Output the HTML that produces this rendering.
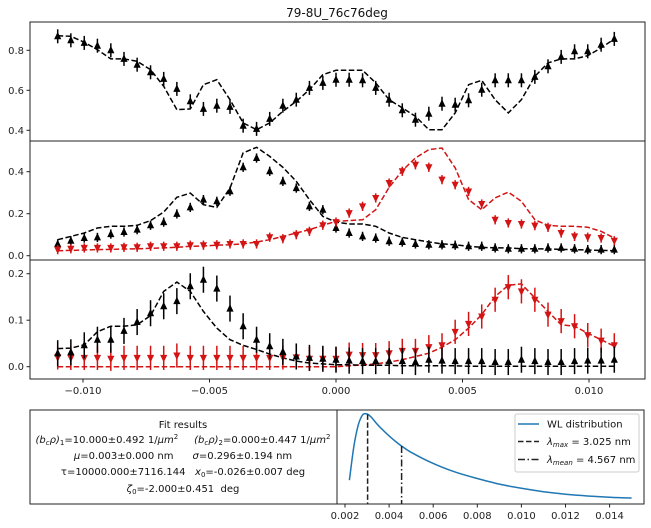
<!DOCTYPE html>
<html><head><meta charset="utf-8"><style>
html,body{margin:0;padding:0;background:#fff;}
svg{display:block;font-family:"DejaVu Sans","Liberation Sans",sans-serif;}
text{white-space:pre;}
.tk{font-size:10px;fill:#222;}
</style></head><body>
<svg id="chart" width="651" height="528" viewBox="0 0 651 528" xmlns="http://www.w3.org/2000/svg" xml:space="preserve">
<text x="337" y="17" text-anchor="middle" font-size="12" fill="#111">79-8U_76c76deg</text>
<g id="g"></g>
<rect x="30" y="410" width="307" height="94" fill="none" stroke="#222"/>
<g font-size="10" fill="#111" text-anchor="middle">
<text x="183" y="428">Fit results</text>
<text x="183" y="443"><tspan font-style="italic">(b<tspan font-size="7" dy="2">c</tspan><tspan dy="-2">ρ)</tspan></tspan><tspan font-size="7" dy="2">1</tspan><tspan dy="-2">=10.000±0.492 1/</tspan><tspan font-style="italic">μm</tspan><tspan font-size="7" dy="-4">2</tspan><tspan dy="4">     </tspan><tspan font-style="italic">(b<tspan font-size="7" dy="2">c</tspan><tspan dy="-2">ρ)</tspan></tspan><tspan font-size="7" dy="2">2</tspan><tspan dy="-2">=0.000±0.447 1/</tspan><tspan font-style="italic">μm</tspan><tspan font-size="7" dy="-4">2</tspan></text>
<text x="183" y="459"><tspan font-style="italic">μ</tspan>=0.003±0.000 nm      <tspan font-style="italic">σ</tspan>=0.296±0.194 nm</text>
<text x="183" y="475">τ=10000.000±7116.144   <tspan font-style="italic">x</tspan><tspan font-size="7" dy="2">0</tspan><tspan dy="-2">=-0.026±0.007 deg</tspan></text>
<text x="183" y="492"><tspan font-style="italic">ζ</tspan><tspan font-size="7" dy="2">0</tspan><tspan dy="-2">=-2.000±0.451  deg</tspan></text>
</g>
</svg>
<script>
const xVals=[-0.01100,-0.01048,-0.00995,-0.00943,-0.00890,-0.00838,-0.00786,-0.00733,-0.00681,-0.00629,-0.00576,-0.00524,-0.00471,-0.00419,-0.00367,-0.00314,-0.00262,-0.00210,-0.00157,-0.00105,-0.00052,0,0.00052,0.00105,0.00157,0.00210,0.00262,0.00314,0.00367,0.00419,0.00471,0.00524,0.00576,0.00629,0.00681,0.00733,0.00786,0.00838,0.00890,0.00943,0.00995,0.01048,0.01100];
const p1Data=[0.870,0.850,0.837,0.823,0.800,0.757,0.728,0.690,0.657,0.607,0.545,0.507,0.523,0.517,0.423,0.407,0.457,0.523,0.553,0.612,0.637,0.653,0.653,0.650,0.612,0.553,0.500,0.453,0.483,0.533,0.528,0.550,0.603,0.650,0.650,0.650,0.667,0.720,0.767,0.795,0.795,0.828,0.857];
const p1Fit=[0.873,0.870,0.840,0.803,0.757,0.757,0.745,0.703,0.620,0.503,0.507,0.628,0.653,0.553,0.437,0.403,0.437,0.495,0.545,0.603,0.678,0.700,0.700,0.700,0.637,0.553,0.512,0.470,0.403,0.403,0.487,0.628,0.650,0.553,0.487,0.553,0.670,0.737,0.757,0.757,0.773,0.812,0.857];
const p2Black=[0.056,0.071,0.084,0.087,0.103,0.113,0.124,0.145,0.160,0.199,0.230,0.267,0.259,0.307,0.421,0.465,0.402,0.354,0.322,0.235,0.219,0.132,0.108,0.092,0.084,0.069,0.065,0.056,0.052,0.052,0.050,0.045,0.045,0.037,0.033,0.033,0.033,0.037,0.037,0.033,0.029,0.029,0.029];
const p2Red=[0.029,0.033,0.037,0.037,0.037,0.040,0.040,0.045,0.045,0.045,0.050,0.050,0.052,0.056,0.056,0.056,0.088,0.081,0.100,0.116,0.145,0.160,0.203,0.235,0.275,0.346,0.402,0.433,0.421,0.362,0.338,0.306,0.246,0.171,0.156,0.151,0.143,0.135,0.108,0.092,0.088,0.084,0.071];
const p2BlackFit=[0.076,0.092,0.108,0.132,0.140,0.140,0.145,0.167,0.208,0.278,0.298,0.243,0.230,0.322,0.489,0.516,0.473,0.421,0.354,0.267,0.187,0.160,0.151,0.151,0.140,0.108,0.087,0.076,0.065,0.056,0.052,0.045,0.040,0.037,0.037,0.033,0.033,0.032,0.030,0.029,0.027,0.025,0.024];
const p2RedFit=[0.024,0.025,0.027,0.029,0.030,0.032,0.033,0.035,0.037,0.040,0.045,0.046,0.050,0.052,0.056,0.065,0.076,0.092,0.108,0.124,0.145,0.164,0.167,0.171,0.219,0.325,0.405,0.465,0.505,0.513,0.418,0.267,0.219,0.275,0.303,0.259,0.171,0.145,0.140,0.140,0.135,0.116,0.084];
const p3Black=[0.029,0.031,0.046,0.058,0.058,0.077,0.096,0.115,0.130,0.141,0.173,0.187,0.168,0.125,0.087,0.058,0.044,0.032,0.022,0.019,0.017,0.015,0.013,0.012,0.012,0.012,0.012,0.010,0.015,0.013,0.012,0.012,0.012,0.010,0.010,0.015,0.012,0.010,0.010,0.012,0.013,0.013,0.015];
const p3Red=[0.020,0.019,0.019,0.019,0.017,0.019,0.019,0.019,0.019,0.024,0.019,0.019,0.019,0.019,0.019,0.019,0.019,0.020,0.020,0.017,0.017,0.017,0.026,0.025,0.025,0.029,0.034,0.034,0.042,0.046,0.075,0.092,0.108,0.144,0.171,0.162,0.144,0.112,0.098,0.087,0.068,0.056,0.046];
const p3BlackFit=[0.039,0.040,0.047,0.075,0.087,0.087,0.090,0.110,0.162,0.182,0.162,0.119,0.083,0.058,0.046,0.037,0.027,0.019,0.012,0.008,0.006,0.004,0.004,0.003,0.003,0.003,0.002,0.002,0.002,0.002,0.002,0.001,0.001,0.001,0.001,0.001,0.001,0.001,0.001,0.001,0.001,0.001,0.001];
const p3RedFit=[0,0,0,0,0,0,0,0,0,0,0,0,0,0,0,0,0,0,0,0,0,0,0.002,0.004,0.006,0.010,0.015,0.022,0.029,0.042,0.058,0.083,0.112,0.151,0.175,0.178,0.148,0.119,0.090,0.087,0.072,0.058,0.044];
const xTicks=[-0.010,-0.005,0.000,0.005,0.010];
const xTickLabels=["−0.010","−0.005","0.000","0.005","0.010"];
const p1Ticks=[0.4,0.6,0.8];
const p2Ticks=[0.0,0.2,0.4];
const p3Ticks=[0.0,0.1,0.2];
const wlLambda=[0.0022,0.0024,0.0026,0.0028,0.0030,0.0032,0.0035,0.0040,0.0045,0.0050,0.0060,0.0070,0.0080,0.0090,0.0100,0.0110,0.0120,0.0130,0.0140,0.0150];
const wlDensity=[0.23,0.62,0.87,0.99,1.0,0.96,0.87,0.745,0.64,0.555,0.425,0.325,0.25,0.185,0.136,0.097,0.068,0.047,0.032,0.023];
const lambdaMax=0.003025, lambdaMean=0.004567;
const wlTicks=[0.002,0.004,0.006,0.008,0.010,0.012,0.014];

const NS="http://www.w3.org/2000/svg";
const G=document.getElementById('g');
function mk(tag,at,parent){const e=document.createElementNS(NS,tag);for(const k in at)e.setAttribute(k,at[k]);(parent||G).appendChild(e);return e;}
const RED="#d41414";
const X=v=>336+v*25300;
const panels=[
 {top:22,bot:141,Y:v=>130.3-(v-0.4)*200,ticks:p1Ticks,name:'panel-total',fmt:v=>v.toFixed(1)},
 {top:141,bot:260,Y:v=>255.7-v*210,ticks:p2Ticks,name:'panel-spin-channels',fmt:v=>v.toFixed(1)},
 {top:260,bot:379,Y:v=>366.7-v*465,ticks:p3Ticks,name:'panel-spin-flip',fmt:v=>v.toFixed(1)}];
panels.forEach(p=>{
 const r=mk('rect',{x:30,y:p.top,width:615,height:p.bot-p.top,fill:'none',stroke:'#222','stroke-width':1});
 
 
 p.ticks.forEach(t=>{
  const y=p.Y(t);
  const l=mk('line',{x1:26.5,x2:30,y1:y,y2:y,stroke:'#222'});
  
  
  const tx=mk('text',{x:24,y:y+3.5,'text-anchor':'end',class:'tk'});
  tx.textContent=p.fmt(t);
  
  
 });
});
xTicks.forEach((t,i)=>{
 const x=X(t);
 const l=mk('line',{x1:x,x2:x,y1:379,y2:382.5,stroke:'#222'});
 
 
 const tx=mk('text',{x:x,y:394,'text-anchor':'middle',class:'tk'});
 tx.textContent=xTickLabels[i];
 
 
});
function fitLine(p,arr,color,name){
 const d=arr.map((v,i)=>(i?'L':'M')+X(xVals[i]).toFixed(1)+','+p.Y(v).toFixed(1)).join('');
 const e=mk('path',{d:d,fill:'none',stroke:color,'stroke-width':1.5,'stroke-dasharray':'5.5,2.5'});
 
 
}
function points(p,arr,err,color,up,name){
 arr.forEach((v,i)=>{
  const x=X(xVals[i]),y=p.Y(v),ey=err*(p.Y(0)-p.Y(1));
  const l=mk('line',{x1:x,x2:x,y1:y-ey,y2:y+ey,stroke:color,'stroke-width':1.5});
  
  
  const pts=up?`${x},${y-4.5} ${x-3.6},${y+3} ${x+3.6},${y+3}`:`${x},${y+4.5} ${x-3.6},${y-3} ${x+3.6},${y-3}`;
  const m=mk('polygon',{points:pts,fill:color});
  
  
 });
}
fitLine(panels[0],p1Fit,'#000','total-fit-line');
points(panels[0],p1Data,0.035,'#000',true,'total-data');
fitLine(panels[1],p2BlackFit,'#000','up-fit-line');
fitLine(panels[1],p2RedFit,RED,'down-fit-line');
points(panels[1],p2Black,0.022,'#000',true,'up-data');
points(panels[1],p2Red,0.022,RED,false,'down-data');
fitLine(panels[2],p3RedFit,RED,'sf-down-fit-line');
fitLine(panels[2],p3BlackFit,'#000','sf-up-fit-line');
points(panels[2],p3Red,0.026,RED,false,'sf-down-data');
points(panels[2],p3Black,0.028,'#000',true,'sf-up-data');

// WL distribution
const WX=l=>345+(l-0.002)*22050, WY=v=>500-v*86;
const wf=mk('rect',{x:337,y:410,width:307,height:94,fill:'none',stroke:'#222'});


wlTicks.forEach(t=>{
 const x=WX(t);
 const l=mk('line',{x1:x,x2:x,y1:504,y2:507.5,stroke:'#222'});
 
 
 const tx=mk('text',{x:x,y:519,'text-anchor':'middle',class:'tk'});
 tx.textContent=t.toFixed(3);
 
 
});
function interp(l){for(let i=1;i<wlLambda.length;i++){if(l<=wlLambda[i]){const f=(l-wlLambda[i-1])/(wlLambda[i]-wlLambda[i-1]);return wlDensity[i-1]+f*(wlDensity[i]-wlDensity[i-1]);}}return wlDensity[wlDensity.length-1];}
const wp=wlLambda.map((l,i)=>[WX(l),WY(wlDensity[i])]);
let wd='M'+wp[0][0].toFixed(1)+','+wp[0][1].toFixed(1);
for(let i=0;i<wp.length-1;i++){
 const p0=wp[Math.max(0,i-1)],p1=wp[i],p2=wp[i+1],p3=wp[Math.min(wp.length-1,i+2)];
 const c1=[p1[0]+(p2[0]-p0[0])/6,p1[1]+(p2[1]-p0[1])/6];
 const c2=[p2[0]-(p3[0]-p1[0])/6,p2[1]-(p3[1]-p1[1])/6];
 wd+=`C${c1[0].toFixed(1)},${c1[1].toFixed(1)} ${c2[0].toFixed(1)},${c2[1].toFixed(1)} ${p2[0].toFixed(1)},${p2[1].toFixed(1)}`;
}
const wc=mk('path',{d:wd,fill:'none',stroke:'#1f77b4','stroke-width':1.5,'stroke-linejoin':'round'});


const vm=mk('line',{x1:WX(lambdaMax),x2:WX(lambdaMax),y1:WY(interp(lambdaMax)),y2:504,stroke:'#222','stroke-width':1.5,'stroke-dasharray':'5.5,2.5'});


const vn=mk('line',{x1:WX(lambdaMean),x2:WX(lambdaMean),y1:WY(interp(lambdaMean)),y2:504,stroke:'#222','stroke-width':1.5,'stroke-dasharray':'7,2.5,1.5,2.5'});


const lg=mk('rect',{x:515,y:414,width:124,height:58,fill:'#fff',stroke:'#ccc',rx:2});


const leg=[['WL distribution','#1f77b4','',424],['max','#222','5.5,2.5',441.5],['mean','#222','7,2.5,1.5,2.5',459.5]];
leg.forEach((e,i)=>{
 const l=mk('line',{x1:518,x2:539,y1:e[3],y2:e[3],stroke:e[1],'stroke-width':1.5,'stroke-dasharray':e[2]||'none'});
 
 
 const t=mk('text',{x:547,y:e[3]+3.5,'font-size':'10',fill:'#111'});
 
 
 if(i===0){t.textContent=e[0];}
 else{
  const a=mk('tspan',{'font-style':'italic'},t);a.textContent='λ';
  const b=mk('tspan',{'font-size':'7',dy:'2','font-style':'italic'},t);b.textContent=e[0];
  const c=mk('tspan',{dy:'-2'},t);c.textContent=i===1?' = 3.025 nm':' = 4.567 nm';
 }
});
</script>
</body></html>
